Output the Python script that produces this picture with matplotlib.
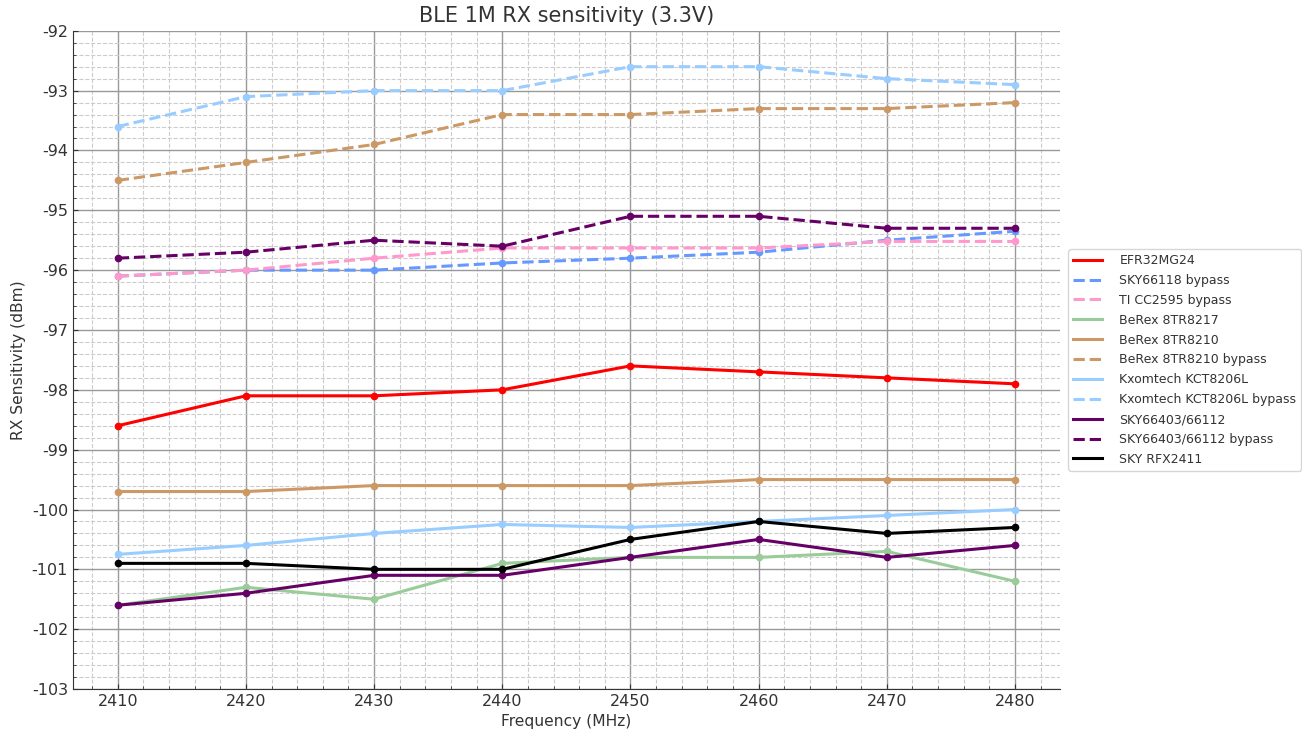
import matplotlib
matplotlib.use('Agg')
import matplotlib.pyplot as plt
from matplotlib.ticker import MultipleLocator

plt.rcParams['axes.unicode_minus'] = False

freq = [2410, 2420, 2430, 2440, 2450, 2460, 2470, 2480]

efr32mg24 = [-98.6, -98.1, -98.1, -98.0, -97.6, -97.7, -97.8, -97.9]
sky66118_bp = [-96.1, -96.0, -96.0, -95.88, -95.8, -95.7, -95.5, -95.35]
ti_cc2595_bp = [-96.1, -96.0, -95.8, -95.63, -95.63, -95.63, -95.52, -95.52]
berex8217 = [-101.6, -101.3, -101.5, -100.9, -100.8, -100.8, -100.7, -101.2]
berex8210 = [-99.7, -99.7, -99.6, -99.6, -99.6, -99.5, -99.5, -99.5]
berex8210_bp = [-94.5, -94.2, -93.9, -93.4, -93.4, -93.3, -93.3, -93.2]
kct8206l = [-100.75, -100.6, -100.4, -100.25, -100.3, -100.2, -100.1, -100.0]
kct8206l_bp = [-93.6, -93.1, -93.0, -93.0, -92.6, -92.6, -92.8, -92.9]
sky66403 = [-101.6, -101.4, -101.1, -101.1, -100.8, -100.5, -100.8, -100.6]
sky66403_bp = [-95.8, -95.7, -95.5, -95.6, -95.1, -95.1, -95.3, -95.3]
rfx2411 = [-100.9, -100.9, -101.0, -101.0, -100.5, -100.2, -100.4, -100.3]

series = [
    ('EFR32MG24', efr32mg24, '#ff0000', '-'),
    ('SKY66118 bypass', sky66118_bp, '#6699ff', '--'),
    ('TI CC2595 bypass', ti_cc2595_bp, '#ff99cc', '--'),
    ('BeRex 8TR8217', berex8217, '#99cc99', '-'),
    ('BeRex 8TR8210', berex8210, '#cc9966', '-'),
    ('BeRex 8TR8210 bypass', berex8210_bp, '#cc9966', '--'),
    ('Kxomtech KCT8206L', kct8206l, '#99ccff', '-'),
    ('Kxomtech KCT8206L bypass', kct8206l_bp, '#99ccff', '--'),
    ('SKY66403/66112', sky66403, '#660066', '-'),
    ('SKY66403/66112 bypass', sky66403_bp, '#660066', '--'),
    ('SKY RFX2411', rfx2411, '#000000', '-'),
]

fig = plt.figure(figsize=(13.02, 7.33), dpi=100)
ax = fig.add_axes([0.056, 0.06, 0.758, 0.898])

for name, vals, col, ls in series:
    ax.plot(freq, vals, ls, color=col, lw=2.2, label=name)
    ax.plot(freq, vals, 'o', color=col, ms=4.5)

ax.set_xlim(2406.5, 2483.5)
ax.set_ylim(-103, -92)
ax.yaxis.set_major_locator(MultipleLocator(1))
ax.yaxis.set_minor_locator(MultipleLocator(0.2))
ax.xaxis.set_major_locator(MultipleLocator(10))
ax.xaxis.set_minor_locator(MultipleLocator(2))
ax.grid(which='major', color='#999999', lw=1)
ax.grid(which='minor', color='#cccccc', ls='--', lw=0.8)
ax.set_axisbelow(True)
for s in ['top', 'right']:
    ax.spines[s].set_visible(False)
ax.spines['left'].set_color('#333333')
ax.spines['bottom'].set_color('#333333')
ax.tick_params(which='both', direction='in', colors='#333333')
ax.tick_params(labelsize=11.5)

ax.set_title('BLE 1M RX sensitivity (3.3V)', fontsize=15, color='#333333')
ax.set_xlabel('Frequency (MHz)', fontsize=11.2, color='#333333')
ax.set_ylabel('RX Sensitivity (dBm)', fontsize=11.2, color='#333333')

ax.legend(loc='center left', bbox_to_anchor=(1.002, 0.5), fontsize=9, labelspacing=0.55,
          handlelength=2.3, handletextpad=1.4, labelcolor='#333333')

fig.savefig('out.png')
